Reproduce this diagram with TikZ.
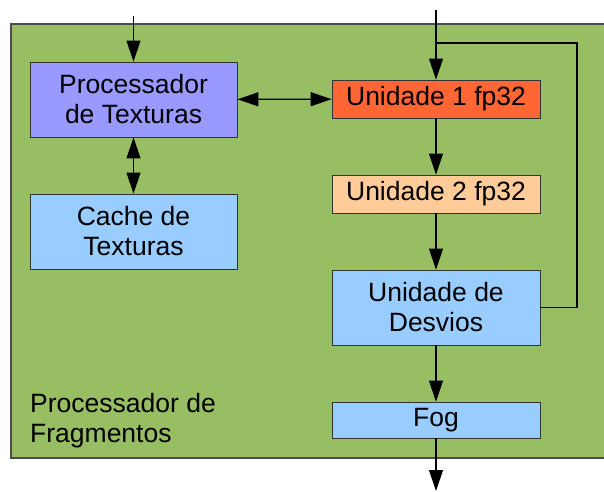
\documentclass[tikz,border=0pt]{standalone}
\usepackage{fontspec}
\setmainfont{Liberation Sans}
\usetikzlibrary{arrows.meta}
\definecolor{fpgreen}{HTML}{97BE62}
\definecolor{texproc}{HTML}{9999FF}
\definecolor{lightblue}{HTML}{99CCFF}
\definecolor{unitred}{HTML}{FF6633}
\definecolor{unitpeach}{HTML}{FFCC99}
\begin{document}
\begin{tikzpicture}[x=1pt,y=1pt,
  block/.style={draw=black!80, line width=0.9pt, inner sep=0pt, align=center,
    font=\fontsize{26.5}{30}\selectfont, text=black},
  flow/.style={draw=black, line width=1.1pt, -{Triangle[length=21pt,width=14pt]}},
  bothflow/.style={draw=black, line width=1.1pt, {Triangle[length=21pt,width=14pt]}-{Triangle[length=21pt,width=14pt]}},
  wire/.style={draw=black, line width=1.1pt}]
  \useasboundingbox (0,0) rectangle (604,491);
  % processor frame
  \path[fill=fpgreen, draw=black!70, line width=1.4pt] (11,33) rectangle (640,467);
  \node[anchor=base west, align=left, inner sep=0pt, font=\fontsize{26.5}{30}\selectfont] (title) at (30,49)
    {Processador de\\Fragmentos};
  % texture side
  \node[block, fill=texproc, minimum width=207pt, minimum height=75pt] (proc) at (133.5,391.5)
    {Processador\\de Texturas};
  \node[block, fill=lightblue, minimum width=207pt, minimum height=75pt] (cache) at (133.5,259.5)
    {Cache de\\Texturas};
  % arithmetic pipeline
  \node[block, fill=unitred, minimum width=208pt, minimum height=38pt] (u1) at (436,392)
    {Unidade 1 fp32};
  \node[block, fill=unitpeach, minimum width=208pt, minimum height=38pt] (u2) at (436,297)
    {Unidade 2 fp32};
  \node[block, fill=lightblue, minimum width=208pt, minimum height=75pt] (desv) at (436,183.5)
    {Unidade de\\Desvios};
  \node[block, fill=lightblue, minimum width=208pt, minimum height=36pt] (fog) at (436,71)
    {Fog};
  % external connections
  \coordinate (texin) at (133.5,475);
  \coordinate (fragin) at (436,481);
  \coordinate (loop) at (436,448);
  \coordinate (fragout) at (436,0);
  \draw[flow] (texin) -- (proc);
  \draw[flow] (fragin) -- (u1);
  \draw[bothflow] (proc) -- (cache);
  \draw[bothflow] (proc) -- (u1);
  \draw[flow] (u1) -- (u2);
  \draw[flow] (u2) -- (desv);
  \draw[flow] (desv) -- (fog);
  \draw[wire] (desv.east) -- (577,183.5) |- (loop);
  \draw[flow] (fog) -- (fragout);
\end{tikzpicture}
\end{document}
